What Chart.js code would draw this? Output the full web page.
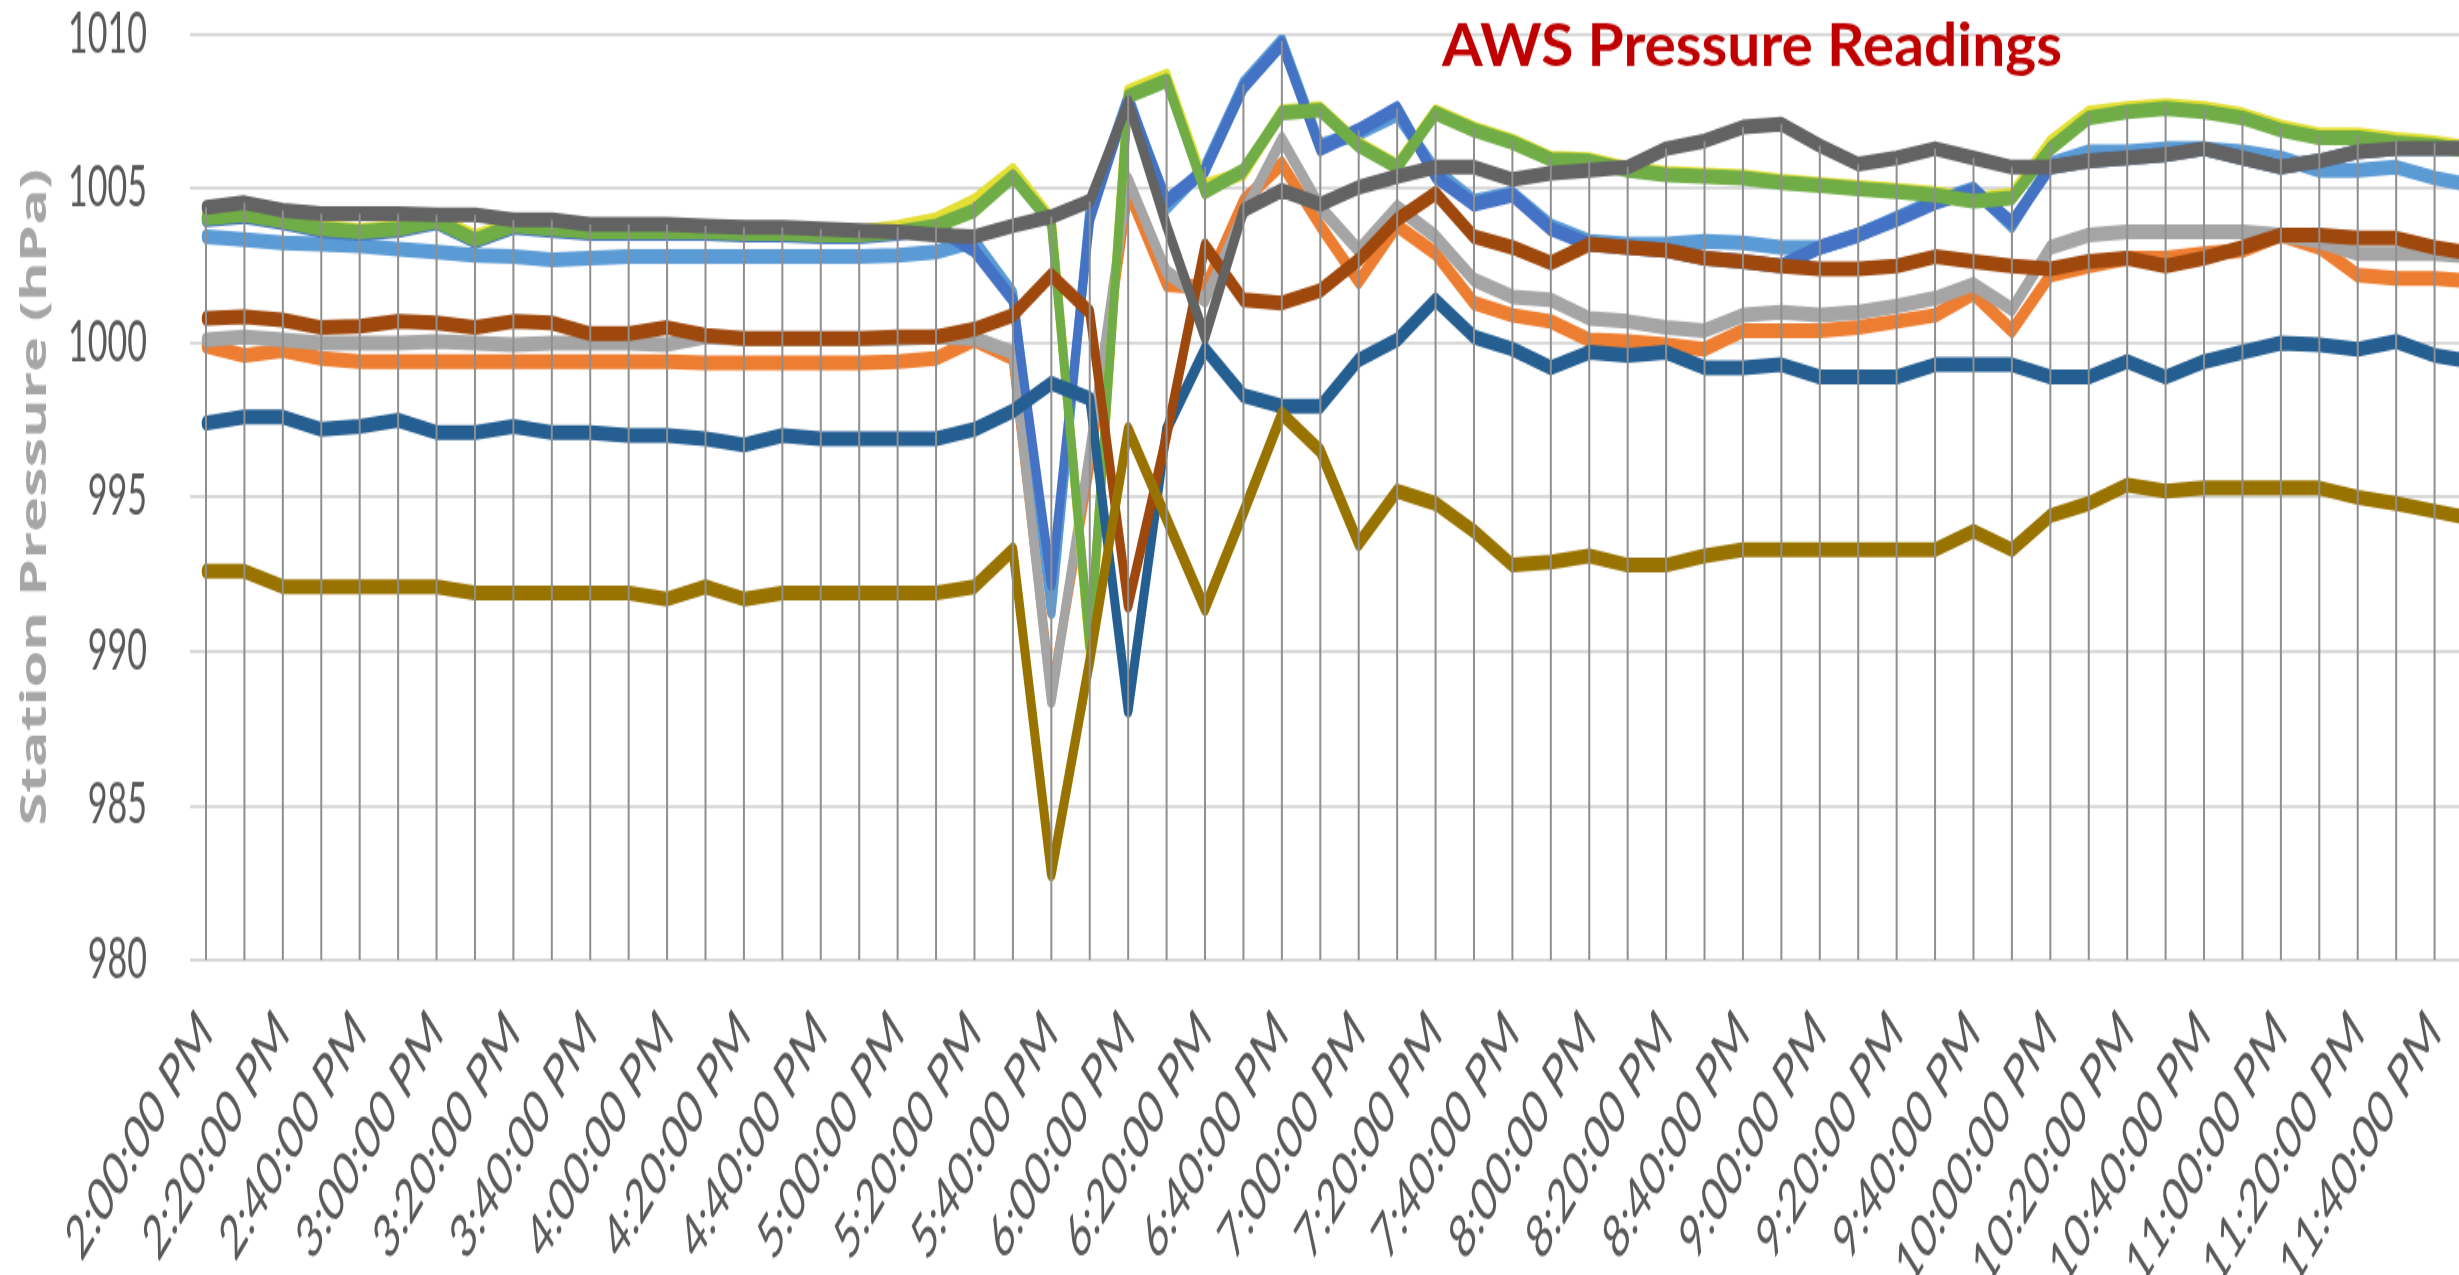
<!DOCTYPE html>
<html>
<head>
<meta charset="utf-8">
<script src="https://cdn.jsdelivr.net/npm/chart.js@4.4.1/dist/chart.umd.min.js"></script>
<style>
  html, body { margin: 0; padding: 0; background: #ffffff; overflow: hidden; width: 2459px; height: 1275px; }
  #wrap { position: absolute; left: 0; top: 0; width: 2473px; height: 1275px; }
</style>
</head>
<body>
<div id="wrap"><canvas id="c" width="2473" height="773" style="width:2473px;height:1275px"></canvas></div>
<script>
// ---------- data ----------
const CHART_TITLE = 'AWS Pressure Readings';
const Y_AXIS_TITLE = 'Station Pressure (hPa)';
const Y_MIN = 980, Y_MAX = 1010, Y_STEP = 5;

const TIME_LABELS = [
  '2:00:00 PM','2:10:00 PM','2:20:00 PM','2:30:00 PM','2:40:00 PM','2:50:00 PM',
  '3:00:00 PM','3:10:00 PM','3:20:00 PM','3:30:00 PM','3:40:00 PM','3:50:00 PM',
  '4:00:00 PM','4:10:00 PM','4:20:00 PM','4:30:00 PM','4:40:00 PM','4:50:00 PM',
  '5:00:00 PM','5:10:00 PM','5:20:00 PM','5:30:00 PM','5:40:00 PM','5:50:00 PM',
  '6:00:00 PM','6:10:00 PM','6:20:00 PM','6:30:00 PM','6:40:00 PM','6:50:00 PM',
  '7:00:00 PM','7:10:00 PM','7:20:00 PM','7:30:00 PM','7:40:00 PM','7:50:00 PM',
  '8:00:00 PM','8:10:00 PM','8:20:00 PM','8:30:00 PM','8:40:00 PM','8:50:00 PM',
  '9:00:00 PM','9:10:00 PM','9:20:00 PM','9:30:00 PM','9:40:00 PM','9:50:00 PM',
  '10:00:00 PM','10:10:00 PM','10:20:00 PM','10:30:00 PM','10:40:00 PM','10:50:00 PM',
  '11:00:00 PM','11:10:00 PM','11:20:00 PM','11:30:00 PM','11:40:00 PM','11:50:00 PM'
];

const LIGHT_BLUE = [
  1003.45,1003.35,1003.25,1003.2,1003.15,1003.05,1002.95,1002.85,1002.8,1002.7,
  1002.75,1002.8,1002.8,1002.8,1002.8,1002.8,1002.8,1002.8,1002.85,1002.95,
  1003.3,1001.6,991.3,1004.3,1008.0,1004.4,1005.7,1008.4,1009.8,1006.4,
  1006.8,1007.4,1005.6,1004.6,1004.85,1003.8,1003.3,1003.2,1003.2,1003.3,
  1003.25,1003.1,1003.1,1003.5,1004.05,1004.6,1005.0,1003.8,1005.8,1006.2,
  1006.2,1006.3,1006.3,1006.2,1006.0,1005.6,1005.6,1005.7,1005.35,1005.1
];
const ORANGE = [
  999.9,999.6,999.75,999.5,999.4,999.4,999.4,999.4,999.4,999.4,
  999.4,999.4,999.4,999.35,999.35,999.35,999.35,999.35,999.4,999.5,
  1000.1,999.5,988.6,996.0,1004.9,1001.9,1001.8,1004.6,1005.8,1003.8,
  1002.0,1003.8,1002.9,1001.3,1000.9,1000.7,1000.1,1000.05,999.95,999.8,
  1000.4,1000.4,1000.4,1000.5,1000.7,1000.9,1001.6,1000.4,1002.2,1002.5,
  1002.75,1002.75,1002.9,1003.0,1003.5,1003.1,1002.2,1002.1,1002.1,1002.0
];
const GRAY = [
  1000.1,1000.2,1000.1,1000.0,1000.0,1000.0,1000.05,1000.0,999.95,1000.0,
  1000.0,1000.0,999.95,1000.2,1000.15,1000.15,1000.15,1000.15,1000.15,1000.2,
  1000.15,999.7,988.4,996.5,1005.3,1002.3,1001.4,1004.2,1006.6,1004.4,
  1003.0,1004.4,1003.45,1002.05,1001.5,1001.4,1000.8,1000.7,1000.5,1000.4,
  1000.9,1001.0,1000.9,1001.0,1001.2,1001.45,1001.9,1001.1,1003.1,1003.5,
  1003.6,1003.6,1003.6,1003.6,1003.5,1003.3,1002.9,1002.9,1002.9,1002.8
];
const YELLOW = [
  1004.1,1004.2,1004.0,1003.75,1003.65,1003.75,1004.0,1003.45,1003.85,1003.75,
  1003.65,1003.65,1003.65,1003.65,1003.6,1003.6,1003.55,1003.6,1003.75,1004.0,
  1004.6,1005.6,1004.0,990.0,1008.15,1008.65,1005.1,1005.5,1007.5,1007.6,
  1006.45,1005.75,1007.5,1006.95,1006.55,1006.0,1005.95,1005.65,1005.5,1005.45,
  1005.4,1005.25,1005.15,1005.05,1004.95,1004.85,1004.65,1004.8,1006.5,1007.45,
  1007.6,1007.7,1007.6,1007.4,1007.0,1006.75,1006.75,1006.6,1006.5,1006.3
];
const MED_BLUE = [
  1004.0,1004.1,1003.9,1003.65,1003.55,1003.65,1003.9,1003.3,1003.75,1003.65,
  1003.55,1003.55,1003.55,1003.55,1003.5,1003.5,1003.45,1003.45,1003.55,1003.75,
  1003.0,1001.4,992.2,1004.0,1007.9,1004.6,1005.6,1008.3,1009.7,1006.3,
  1006.9,1007.6,1005.4,1004.5,1004.8,1003.7,1003.2,1003.1,1003.0,1002.75,
  1002.65,1002.5,1003.1,1003.5,1004.0,1004.55,1004.95,1003.9,1005.7,1005.9,
  1006.0,1006.1,1006.3,1006.0,1005.7,1005.9,1006.2,1006.3,1006.3,1006.3
];
const GREEN = [
  1004.05,1004.15,1003.95,1003.7,1003.6,1003.7,1003.95,1003.35,1003.8,1003.7,
  1003.6,1003.6,1003.6,1003.6,1003.55,1003.55,1003.5,1003.5,1003.6,1003.8,
  1004.3,1005.4,1003.9,990.2,1008.0,1008.5,1004.9,1005.6,1007.45,1007.55,
  1006.4,1005.7,1007.45,1006.9,1006.5,1005.95,1005.9,1005.6,1005.45,1005.4,
  1005.35,1005.2,1005.1,1005.0,1004.9,1004.8,1004.6,1004.7,1006.3,1007.3,
  1007.5,1007.6,1007.5,1007.3,1006.9,1006.65,1006.65,1006.5,1006.4,1006.2
];
const DARK_BLUE = [
  997.4,997.6,997.6,997.2,997.3,997.5,997.1,997.1,997.3,997.1,
  997.1,997.0,997.0,996.9,996.7,997.0,996.9,996.9,996.9,996.9,
  997.2,997.8,998.7,998.2,988.1,997.2,999.8,998.3,997.95,997.95,
  999.45,1000.1,1001.4,1000.2,999.8,999.2,999.7,999.6,999.7,999.2,
  999.2,999.3,998.9,998.9,998.9,999.3,999.3,999.3,998.9,998.9,
  999.4,998.9,999.4,999.7,1000.0,999.95,999.8,1000.05,999.6,999.4
];
const BROWN = [
  1000.8,1000.85,1000.75,1000.5,1000.55,1000.7,1000.65,1000.5,1000.7,1000.65,
  1000.3,1000.3,1000.5,1000.25,1000.15,1000.15,1000.15,1000.15,1000.2,1000.2,
  1000.45,1000.9,1002.2,1001.0,991.5,997.0,1003.15,1001.4,1001.3,1001.7,
  1002.7,1004.0,1004.85,1003.45,1003.1,1002.6,1003.2,1003.1,1003.0,1002.75,
  1002.65,1002.5,1002.4,1002.4,1002.5,1002.8,1002.65,1002.5,1002.4,1002.65,
  1002.75,1002.5,1002.75,1003.1,1003.5,1003.5,1003.4,1003.4,1003.1,1002.9
];
const DARK_GRAY = [
  1004.4,1004.55,1004.3,1004.2,1004.2,1004.2,1004.15,1004.15,1004.0,1004.0,
  1003.85,1003.85,1003.85,1003.8,1003.75,1003.75,1003.7,1003.65,1003.6,1003.5,
  1003.45,1003.8,1004.1,1004.6,1007.8,1003.8,1000.2,1004.3,1004.95,1004.5,
  1005.05,1005.4,1005.7,1005.7,1005.3,1005.5,1005.6,1005.7,1006.3,1006.55,
  1007.0,1007.1,1006.4,1005.8,1006.0,1006.3,1006.0,1005.7,1005.7,1005.9,
  1006.0,1006.1,1006.3,1006.0,1005.7,1005.9,1006.2,1006.3,1006.3,1006.3
];
const OLIVE = [
  992.6,992.6,992.1,992.1,992.1,992.1,992.1,991.9,991.9,991.9,
  991.9,991.9,991.7,992.1,991.7,991.9,991.9,991.9,991.9,991.9,
  992.1,993.3,982.8,989.7,997.2,994.3,991.4,994.5,997.7,996.5,
  993.5,995.2,994.8,993.9,992.8,992.9,993.1,992.8,992.8,993.1,
  993.3,993.3,993.3,993.3,993.3,993.3,993.9,993.3,994.4,994.8,
  995.4,995.2,995.3,995.3,995.3,995.3,995.0,994.8,994.55,994.3
];

const SERIES_NAMES  = ['Series 1','Series 2','Series 3','Series 4','Series 5','Series 6','Series 7','Series 8','Series 9','Series 10'];
const SERIES_VALUES = [LIGHT_BLUE, ORANGE, GRAY, YELLOW, MED_BLUE, GREEN, DARK_BLUE, BROWN, DARK_GRAY, OLIVE];
const SERIES_COLORS = ['#5B9BD5','#ED7D31','#A5A5A5','#E3DF35','#4472C4','#70AD47','#255E91','#9E480E','#636363','#997300'];

// ---------- rendering (the reference is a vertically stretched picture) ----------
const STRETCH = 1275 / 773;

const dropLines = {
  id: 'dropLines',
  afterDatasetsDraw(chart, args, opts) {
    const { ctx, scales: { x, y } } = chart;
    ctx.save();
    ctx.strokeStyle = opts.color;
    ctx.lineWidth = opts.width;
    chart.data.labels.forEach((lab, i) => {
      let top = -Infinity;
      chart.data.datasets.forEach(ds => { if (ds.data[i] > top) top = ds.data[i]; });
      const px = x.getPixelForValue(i);
      ctx.beginPath();
      ctx.moveTo(px, y.getPixelForValue(top));
      ctx.lineTo(px, y.getPixelForValue(y.min));
      ctx.stroke();
    });
    ctx.restore();
  }
};

const overlayTitle = {
  id: 'overlayTitle',
  afterDraw(chart, args, opts) {
    const ctx = chart.ctx;
    ctx.save();
    ctx.scale(1, 1 / STRETCH);
    ctx.font = `bold ${opts.size}px ${opts.family}`;
    ctx.fillStyle = opts.color;
    ctx.textAlign = 'center';
    ctx.textBaseline = 'alphabetic';
    ctx.fillText(opts.text, opts.x, opts.y, opts.maxWidth);
    ctx.restore();
  }
};

const datasets = SERIES_VALUES.map((vals, k) => ({
  label: SERIES_NAMES[k],
  data: vals,
  borderColor: SERIES_COLORS[k],
  backgroundColor: SERIES_COLORS[k],
  borderWidth: 9,
  pointRadius: 0,
  tension: 0,
  fill: false,
  borderJoinStyle: 'round',
  borderCapStyle: 'round',
  order: SERIES_VALUES.length - k
}));

new Chart(document.getElementById('c'), {
  type: 'line',
  data: { labels: TIME_LABELS, datasets },
  plugins: [dropLines, overlayTitle],
  options: {
    responsive: false,
    devicePixelRatio: 1,
    animation: false,
    events: [],
    layout: { padding: { top: 34.5 / STRETCH, right: 0, bottom: 0, left: 0 } },
    plugins: {
      legend: { display: false },
      tooltip: { enabled: false },
      title: { display: false },
      dropLines: { color: '#8f8f8f', width: 2 },
      overlayTitle: { text: CHART_TITLE, color: '#C00000', family: 'Lato', size: 61, x: 1752, y: 66, maxWidth: 620 }
    },
    scales: {
      x: {
        type: 'category',
        offset: false,
        grid: { display: false, drawTicks: false },
        border: { display: false },
        ticks: {
          autoSkip: false,
          maxRotation: 46,
          minRotation: 46,
          padding: 22,
          color: '#595959',
          font: { family: 'Lato', size: 37 },
          callback: function (value, index) { return index % 2 === 0 ? this.getLabelForValue(value) : ''; }
        },
        afterFit(scale) { scale.height = 773 - 960 / STRETCH; scale.paddingLeft = 0; scale.paddingRight = 0; }
      },
      y: {
        min: Y_MIN,
        max: Y_MAX,
        grid: { color: '#d9d9d9', lineWidth: 2, tickLength: 16, drawTicks: true },
        border: { display: false },
        ticks: {
          stepSize: Y_STEP,
          padding: 43,
          color: '#595959',
          font: { family: 'Lato', size: 34 },
          callback: (v) => String(v)
        },
        title: {
          display: true,
          text: Y_AXIS_TITLE,
          color: '#a6a6a6',
          font: { family: 'Open Sans', size: 36, weight: 'bold' },
          padding: { top: 14, bottom: 0 }
        },
        afterFit(scale) { scale.width = 206; scale.paddingTop = 0; scale.paddingBottom = 0; }
      }
    }
  }
});
</script>
</body>
</html>
